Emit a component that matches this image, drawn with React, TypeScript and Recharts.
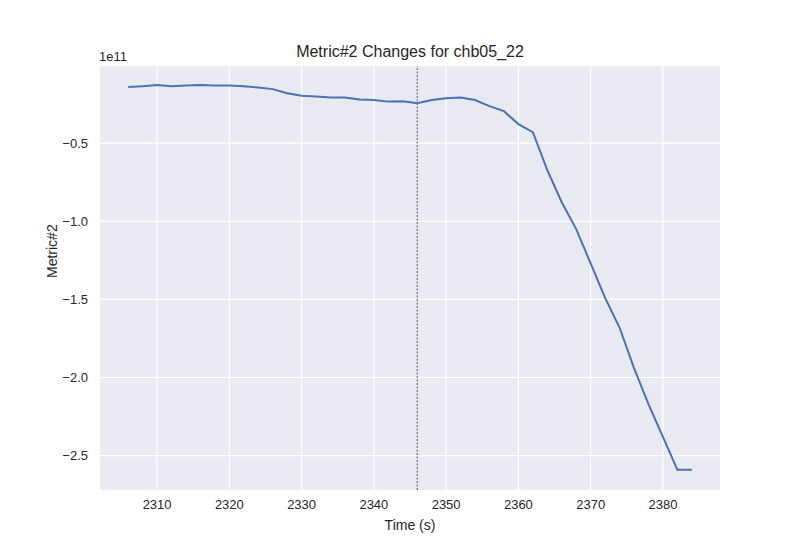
import { LineChart, Line, XAxis, YAxis, CartesianGrid, ReferenceLine, Label } from "recharts";

const times = [2306, 2308, 2310, 2312, 2314, 2316, 2318, 2320, 2322, 2324, 2326, 2328, 2330, 2332, 2334, 2336, 2338, 2340, 2342, 2344, 2346, 2348, 2350, 2352, 2354, 2356, 2358, 2360, 2362, 2364, 2366, 2368, 2370, 2372, 2374, 2376, 2378, 2380, 2382, 2384];
const metric = [-0.141, -0.135, -0.128, -0.135, -0.131, -0.128, -0.131, -0.131, -0.135, -0.144, -0.154, -0.18, -0.196, -0.202, -0.208, -0.208, -0.221, -0.224, -0.234, -0.231, -0.244, -0.224, -0.212, -0.208, -0.224, -0.263, -0.295, -0.378, -0.43, -0.673, -0.878, -1.05, -1.27, -1.49, -1.68, -1.94, -2.17, -2.38, -2.59, -2.59];
const xTicks = [2310, 2320, 2330, 2340, 2350, 2360, 2370, 2380];
const yTicks = [-0.5, -1.0, -1.5, -2.0, -2.5];

const data = times.map((t, i) => ({ t, v: metric[i] }));
const font = "Liberation Sans, Arial, sans-serif";
const fmtY = (v: number) => (v < 0 ? "\u2212" : "") + Math.abs(v).toFixed(1);

export default function App() {
  return (
    <div style={{ position: "absolute", left: 0, top: 0, width: 800, height: 550, background: "#fff", fontFamily: font }}>
      <div style={{ position: "absolute", top: 43, width: 820, textAlign: "center", fontSize: 16, color: "#262626" }}>
        Metric#2 Changes for chb05_22
      </div>
      <div style={{ position: "absolute", top: 49, left: 99, fontSize: 13, color: "#262626" }}>1e11</div>
      <LineChart width={800} height={550} data={data} margin={{ top: 66, right: 80, bottom: 20, left: 30 }}>
        <CartesianGrid fill="#eaeaf2" stroke="#ffffff" strokeWidth={1.2} horizontalValues={yTicks} verticalValues={xTicks} />
        <XAxis dataKey="t" type="number" domain={[2302.1, 2387.9]} ticks={xTicks} axisLine={false} tickLine={false}
          tick={{ fill: "#262626", fontSize: 13, fontFamily: font }} height={40} tickMargin={4}>
          <Label value="Time (s)" position="insideBottom" offset={0} fill="#262626" fontSize={14} fontFamily={font} />
        </XAxis>
        <YAxis type="number" domain={[-2.72, -0.006]} ticks={yTicks} tickFormatter={fmtY} axisLine={false} tickLine={false}
          tick={{ fill: "#262626", fontSize: 13, fontFamily: font }} width={70} tickMargin={6}>
          <Label value="Metric#2" angle={-90} position="insideLeft" offset={22} fill="#262626" fontSize={14} fontFamily={font} />
        </YAxis>
        <ReferenceLine x={2346} stroke="#333333" strokeWidth={0.8} strokeDasharray="2 1.5" />
        <Line dataKey="v" stroke="#4c72b0" strokeWidth={2} dot={false} isAnimationActive={false} />
      </LineChart>
    </div>
  );
}
